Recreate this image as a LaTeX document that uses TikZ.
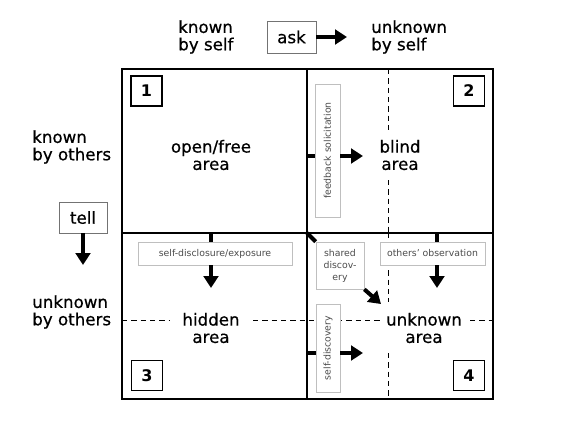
\documentclass[tikz,border=0pt]{standalone}
\usepackage{fontspec}
\setmainfont{DejaVu Sans}
\newfontfamily\heavyfont[FakeBold=0.6]{DejaVu Sans}
\usetikzlibrary{arrows.meta}
\tikzset{>={Triangle[length=9pt,width=11pt]}}
\tikzset{
    axis label/.style = {align=left, inner sep=0pt, font=\heavyfont\fontsize{12.5}{13}\selectfont},
    area/.style = {align=center, font=\heavyfont\fontsize{12.5}{13}\selectfont},
    numbox/.style = {rectangle, draw, line width=0.8pt, minimum width=23.25pt,
                        minimum height=22.5pt, inner sep=0pt, font=\bfseries\fontsize{12}{12}\selectfont},
    actbox/.style = {rectangle, draw=black!55, line width=0.6pt, inner sep=0pt,
                        font=\heavyfont\fontsize{12.5}{13}\selectfont},
    hint/.style = {rectangle, draw=black!25, fill=white, line width=0.5pt, inner sep=0pt, align=center,
                        font=\fontsize{7}{9}\selectfont, text=black!70},
    push/.style = {->, line width=3pt},
    stub/.style = {line width=3pt},
    split/.style = {line width=0.75pt, dash pattern=on 4pt off 3pt}
}

\begin{document}
\begin{tikzpicture}[x=0.75pt, y=-0.75pt]
		\useasboundingbox (0,0) rectangle (567,422);
		% frame
		\draw[line width=1.5pt] (122,69) rectangle (493,399);
		\draw[line width=2pt] (307,69) -- (307,399);
		\draw[line width=2pt] (122,233) -- (493,233);
		\draw[split] (388,69) -- (388,133);
		\draw[split] (388,180) -- (388,233);
		\draw[split] (388,233) -- (388,302);
		\draw[split] (388,353) -- (388,399);
		\draw[split] (122,320) -- (170,320);
		\draw[split] (253,320) -- (382,320);
		\draw[split] (470,320) -- (493,320);
		% outside labels
		\node (knownself) [axis label, anchor=west] at (178,37) {known\\by self};
		\node (ask) [actbox, minimum width=36.75pt, minimum height=24pt] at (291.5,37) {ask};
		\node (unknownself) [axis label, anchor=west] at (371,37) {unknown\\by self};
		\coordinate (askend) at (347,37);
		\draw[push] (ask) -- (askend);
		\node (knownothers) [axis label, anchor=west] at (32,147) {known\\by others};
		\node (tell) [actbox, minimum width=36pt, minimum height=23.25pt] at (83,217.5) {tell};
		\node (unknownothers) [axis label, anchor=west] at (32,312) {unknown\\by others};
		\coordinate (tellend) at (83,265);
		\draw[push] (tell) -- (tellend);
		% areas
		\node (open) [area] at (211,155) {open/free\\area};
		\node (blind) [area] at (400,155) {blind\\area};
		\node (hidden) [area] at (211,328) {hidden\\area};
		\node (unknown) [area] at (424,328) {unknown\\area};
		\node (n1) [numbox] at (146.5,91) {1};
		\node (n2) [numbox] at (469,91) {2};
		\node (n3) [numbox] at (147,375.5) {3};
		\node (n4) [numbox] at (469,375.5) {4};
		% hints
		\node (feedback) [hint, rotate=90, minimum width=99.75pt, minimum height=18.75pt] at (327.5,150.5) {feedback solicitation};
		\node (disclose) [hint, minimum width=115.5pt, minimum height=17.25pt] at (215,253.5) {self-disclosure/exposure};
		\node (shared) [hint, minimum width=36pt, minimum height=35.25pt] at (340,265.5) {shared\\discov-\\ery};
		\node (observe) [hint, minimum width=78.75pt, minimum height=17.25pt] at (432.5,253.5) {others' observation};
		\node (selfdisc) [hint, rotate=90, minimum width=66pt, minimum height=18pt] at (328,348) {self-discovery};
		\coordinate (fbroot) at (307,156);
		\coordinate (fbend) at (363,156);
		\coordinate (dcroot) at (211,233);
		\coordinate (dcend) at (211,288);
		\coordinate (obroot) at (437,233);
		\coordinate (obend) at (437,288);
		\coordinate (sdroot) at (307,353);
		\coordinate (sdend) at (363,353);
		\coordinate (centre) at (307,233);
		\coordinate (shend) at (381,304);
		\draw[stub] (fbroot) -- (feedback.north |- fbroot);
		\draw[push] (feedback.south |- fbend) -- (fbend);
		\draw[stub] (dcroot) -- (disclose.north -| dcroot);
		\draw[push] (disclose.south -| dcend) -- (dcend);
		\draw[stub] (obroot) -- (observe.north -| obroot);
		\draw[push] (observe.south -| obend) -- (obend);
		\draw[stub] (sdroot) -- (selfdisc.north |- sdroot);
		\draw[push] (selfdisc.south |- sdend) -- (sdend);
		\draw[stub] (centre) -- (shared.north west);
		\draw[push] (shared.south east) -- (shend);
	\end{tikzpicture}
\end{document}
